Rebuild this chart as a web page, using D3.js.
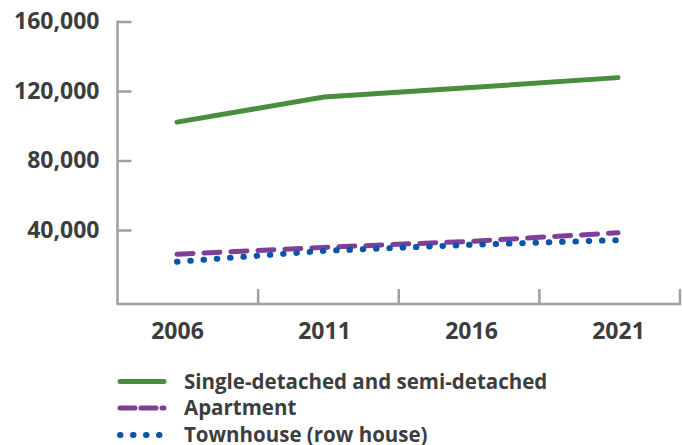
<!DOCTYPE html>
<html>
<head>
<meta charset="utf-8">
<script src="https://cdn.jsdelivr.net/npm/d3@7"></script>
<style>
  html, body { margin: 0; padding: 0; background: #fff; }
  svg text { font-family: "Open Sans", "Liberation Sans", sans-serif; font-weight: 700; fill: #3d3d3d; }
</style>
</head>
<body>
<svg id="chart"></svg>
<script>
// --- Data ---
const years = ["2006", "2011", "2016", "2021"];
const singleDetached = [102100, 116500, 122000, 127700];
const apartment = [26100, 30000, 33500, 38400];
const townhouse = [21700, 28000, 31500, 34200];
const yTicks = [40000, 80000, 120000, 160000];
const seriesNames = ["Single-detached and semi-detached", "Apartment", "Townhouse (row house)"];

const series = [
  { name: seriesNames[0], values: singleDetached, color: "#4b8d3f", width: 5, dash: null, legendDash: null },
  { name: seriesNames[1], values: apartment, color: "#7d3f98", width: 5, dash: "16,11", legendDash: "15,6" },
  { name: seriesNames[2], values: townhouse, color: "#0a55a8", width: 6, dash: "0.5,12.8", legendDash: "0.5,12.5" }
];

// --- Layout ---
const W = 682, H = 445;
const axisColor = "#a0a0a4";
const svg = d3.select("#chart").attr("width", W).attr("height", H);

const y = d3.scaleLinear().domain([0, 160000]).range([299.5, 21.5]);
const xBand = d3.scaleBand().domain(years).range([117.5, 680]);
const x = d3.scalePoint().domain(years).range([177, 618]);
const baseY = 304;

// y axis
const yAxis = svg.append("g").attr("transform", "translate(117.5,0)")
  .call(d3.axisLeft(y).tickValues(yTicks).tickFormat(d3.format(",")).tickSizeInner(-14).tickSizeOuter(0).tickPadding(18));
yAxis.select(".domain").remove();
yAxis.selectAll(".tick line").attr("stroke", axisColor).attr("stroke-width", 2.5);
yAxis.selectAll(".tick text").style("font-size", "23px").attr("fill", "#3d3d3d");

svg.append("line")
  .attr("x1", 117.5).attr("x2", 117.5).attr("y1", y(160000) - 1).attr("y2", baseY)
  .attr("stroke", axisColor).attr("stroke-width", 2.5);

// x axis
svg.append("line")
  .attr("x1", 116.5).attr("x2", xBand.range()[1] + 1).attr("y1", baseY).attr("y2", baseY)
  .attr("stroke", axisColor).attr("stroke-width", 2.5);
svg.append("g").selectAll("line")
  .data(years)
  .join("line")
  .attr("x1", d => xBand(d) + xBand.bandwidth())
  .attr("x2", d => xBand(d) + xBand.bandwidth())
  .attr("y1", baseY).attr("y2", baseY - 15)
  .attr("stroke", axisColor).attr("stroke-width", 2.5);

const xAxis = svg.append("g").attr("transform", `translate(0,${baseY})`)
  .call(d3.axisBottom(x).tickSize(0).tickPadding(19));
xAxis.select(".domain").remove();
xAxis.selectAll(".tick text").style("font-size", "23px").attr("fill", "#3d3d3d");

// lines
const line = d3.line().x((d, i) => x(years[i])).y(d => y(d));
svg.append("g").selectAll("path")
  .data(series)
  .join("path")
  .attr("d", d => line(d.values))
  .attr("fill", "none")
  .attr("stroke", d => d.color)
  .attr("stroke-width", d => d.width)
  .attr("stroke-linecap", "round")
  .attr("stroke-linejoin", "round")
  .attr("stroke-dasharray", d => d.dash);

// legend
const legendY = [381.5, 408, 435];
const legend = svg.append("g").selectAll("g")
  .data(series)
  .join("g")
  .attr("transform", (d, i) => `translate(0,${legendY[i]})`);
legend.append("line")
  .attr("x1", 120).attr("x2", 164).attr("y1", 0).attr("y2", 0)
  .attr("stroke", d => d.color)
  .attr("stroke-width", d => d.width)
  .attr("stroke-linecap", "round")
  .attr("stroke-dasharray", d => d.legendDash);
legend.append("text")
  .attr("x", 184).attr("y", 0).attr("dy", "0.35em")
  .style("font-size", "20.5px")
  .text(d => d.name);
</script>
</body>
</html>
